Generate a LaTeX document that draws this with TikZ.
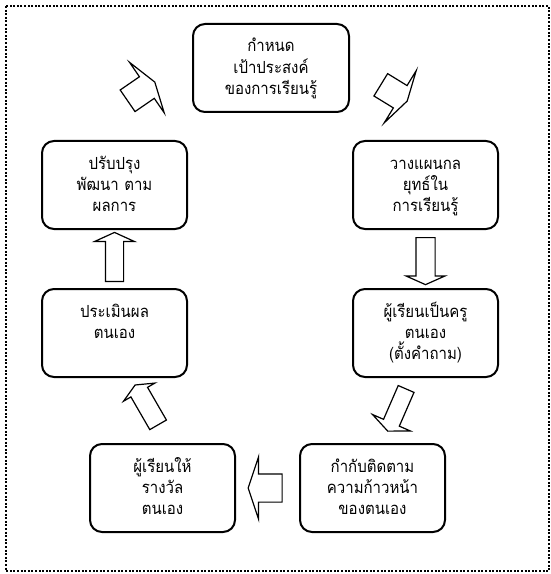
\documentclass[tikz,border=0pt]{standalone}
\usepackage{fontspec}
\newfontfamily\thaifont[Script=Thai, FakeStretch=0.9]{Loma}
\usetikzlibrary{shapes.arrows,calc}

\begin{document}
\begin{tikzpicture}[x=0.75pt, y=-0.75pt,
  every node/.style={font=\thaifont\fontsize{12.5}{16}\selectfont},
  stepbox/.style={draw, line width=1.5pt, rounded corners=9pt, anchor=north,
    text width=108.75pt, align=center, inner xsep=0pt, inner ysep=0pt,
    text height=21pt, text depth=45pt},
  blockarr/.style n args={4}{single arrow, draw, fill=white, line width=0.9pt,
    inner xsep=0pt, inner ysep=#2*0.375pt, minimum height=#1*0.75pt,
    single arrow head extend={(#3-#2)*0.375pt}, single arrow tip angle=#4}]

  % 1. frame
  \useasboundingbox (0,0) rectangle (550,574);
  \draw[line width=1.3pt, dash pattern=on 1.5pt off 1.2pt] (6,6) rectangle (549,571);

  % 2. steps of the cycle
  \node[stepbox, text width=117pt] (goal) at (271,23) {กำหนด\\เป้าประสงค์\\ของการเรียนรู้};
  \node[stepbox] (plan) at (425.5,140) {วางแผนกล\\ยุทธ์ใน\\การเรียนรู้};
  \node[stepbox] (teach) at (425.5,288) {ผู้เรียนเป็นครู\\ตนเอง\\(ตั้งคำถาม)};
  \node[stepbox] (monitor) at (372.5,443) {กำกับติดตาม\\ความก้าวหน้า\\ของตนเอง};
  \node[stepbox] (reward) at (162.5,443) {ผู้เรียนให้\\รางวัล\\ตนเอง};
  \node[stepbox] (assess) at (114.5,288) {ประเมินผล\\ตนเอง};
  \node[stepbox] (improve) at (114.5,140) {ปรับปรุง\\พัฒนา ตาม\\ผลการ};

  % 3. block arrows (length, shaft, head width, tip angle)
  \node[blockarr={31}{25}{60}{150}, rotate=-31.5] (goal-plan) at (392.5,92) {};
  \node[blockarr={47}{18}{38}{132}, rotate=-90] (plan-teach) at ($(plan.south)!0.5!(teach.north)$) {};
  \node[blockarr={46}{16}{40}{132}, rotate=246.5] (teach-monitor) at (397.7,408.3) {};
  \node[blockarr={34}{27}{61}{143}, rotate=180] (monitor-reward) at ($(monitor.west)!0.5!(reward.east)$) {};
  \node[blockarr={46}{18}{35}{131}, rotate=120] (reward-assess) at (147.7,406.8) {};
  \node[blockarr={49}{17}{39}{131}, rotate=90] (assess-improve) at ($(assess.north)!0.5!(improve.south)$) {};
  \node[blockarr={33}{25}{60}{145}, rotate=34.5] (improve-goal) at (139.5,92.6) {};

\end{tikzpicture}
\end{document}
